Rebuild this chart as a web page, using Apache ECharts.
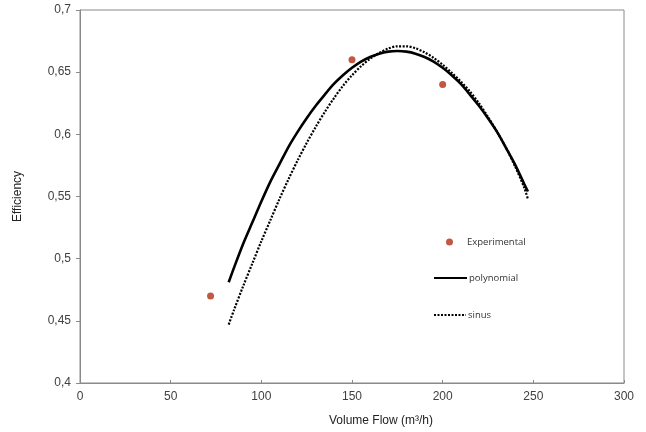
<!DOCTYPE html>
<html>
<head>
<meta charset="utf-8">
<script src="https://cdn.jsdelivr.net/npm/echarts@6/dist/echarts.min.js"></script>
<style>
  html, body { margin: 0; padding: 0; background: #fff; }
  #chart { width: 646px; height: 432px; }
</style>
</head>
<body>
<div id="chart"></div>
<script>
// Measured efficiency at three volume flows (m³/h)
const expFlow = [72, 150, 200];
const expEff = [0.47, 0.66, 0.64];

// Polynomial fit curve, sampled along the flow range
const polyFlow = [82, 85, 90, 95, 100, 105, 110, 115, 120, 125, 130, 135, 140, 145, 150, 155, 160, 165, 170, 175,
                  180, 185, 190, 195, 200, 205, 210, 215, 220, 225, 230, 235, 240, 245, 247];
const polyEff = [0.481, 0.493, 0.512, 0.529, 0.546, 0.562, 0.576, 0.590, 0.602, 0.613, 0.623, 0.632, 0.6405, 0.6475, 0.6535, 0.6585, 0.6622, 0.6649, 0.6665, 0.667,
                 0.6665, 0.6649, 0.6622, 0.6585, 0.6535, 0.6475, 0.6405, 0.632, 0.623, 0.613, 0.602, 0.589, 0.5755, 0.560, 0.554];

// Sinus fit curve, sampled along the flow range
const sinFlow = [82, 85, 90, 95, 100, 105, 110, 115, 120, 125, 130, 135, 140, 145, 150, 155, 160, 165, 170, 175,
                 180, 185, 190, 195, 200, 205, 210, 215, 220, 225, 230, 235, 240, 245, 247];
const sinEff = [0.447, 0.459, 0.478, 0.496, 0.514, 0.531, 0.548, 0.564, 0.579, 0.593, 0.606, 0.618, 0.629, 0.639, 0.6475, 0.6548, 0.6608, 0.6655, 0.6690, 0.6708,
                0.6708, 0.6692, 0.6660, 0.6615, 0.6560, 0.6495, 0.6425, 0.6345, 0.625, 0.614, 0.602, 0.589, 0.574, 0.557, 0.548];

// Axis ranges
const xTicks = { min: 0, max: 300, step: 50 };
const yTicks = { min: 0.4, max: 0.7, step: 0.05 };

const zip = (xs, ys) => xs.map((x, i) => [x, ys[i]]);
const FONT = '"Liberation Sans", Arial, sans-serif';
const axisGray = '#8a8a8a';
const labelGray = '#404040';

const chart = echarts.init(document.getElementById('chart'), null, { renderer: 'canvas' });

const legendText = { fontFamily: '"Open Sans", "Noto Sans", sans-serif', fontSize: 9.5, color: '#333' };

chart.setOption({
  animation: false,
  backgroundColor: '#fff',
  grid: {
    left: 80, right: 22, top: 10, bottom: 48,
    show: true, borderColor: axisGray, borderWidth: 1
  },
  legend: [
    {
      data: ['Experimental'], left: 446, top: 237, padding: 0,
      itemWidth: 7, itemHeight: 7, textStyle: Object.assign({ padding: [0, 0, 0, 9] }, legendText)
    },
    {
      data: ['polynomial'], left: 433, top: 273, padding: 0,
      itemWidth: 33, itemHeight: 10, itemStyle: { opacity: 0 },
      textStyle: Object.assign({ padding: [0, 0, 0, -3] }, legendText)
    },
    {
      data: ['sinus'], left: 433, top: 310, padding: 0,
      itemWidth: 32, itemHeight: 10, itemStyle: { opacity: 0 },
      textStyle: Object.assign({ padding: [0, 0, 0, -3] }, legendText)
    }
  ],
  xAxis: {
    type: 'value', min: xTicks.min, max: xTicks.max, interval: xTicks.step,
    name: 'Volume Flow (m³/h)', nameLocation: 'middle', nameGap: 32,
    nameTextStyle: { fontFamily: FONT, fontSize: 12, color: '#222', padding: [0, 0, 0, 58] },
    axisLine: { lineStyle: { color: axisGray, width: 1 } },
    axisTick: { show: true, inside: true, length: 3, lineStyle: { color: axisGray } },
    axisLabel: { fontFamily: FONT, fontSize: 12, color: labelGray, margin: 8 },
    splitLine: { show: false }
  },
  yAxis: {
    type: 'value', min: yTicks.min, max: yTicks.max, interval: yTicks.step,
    name: 'Efficiency', nameLocation: 'middle', nameGap: 56, nameRotate: 90,
    nameTextStyle: { fontFamily: FONT, fontSize: 12, color: '#222' },
    axisLine: { show: true, lineStyle: { color: axisGray, width: 1 } },
    axisTick: { show: true, inside: false, length: 4, lineStyle: { color: axisGray } },
    axisLabel: {
      fontFamily: FONT, fontSize: 12, color: labelGray, margin: 9,
      formatter: v => String(+v.toFixed(2)).replace('.', ',')
    },
    splitLine: { show: false }
  },
  series: [
    {
      name: 'Experimental', type: 'scatter', data: zip(expFlow, expEff),
      symbol: 'circle', symbolSize: 7,
      itemStyle: { color: '#b02e15' }, z: 5
    },
    {
      name: 'polynomial', type: 'line', data: zip(polyFlow, polyEff),
      smooth: 0.3, showSymbol: false, symbol: 'none',
      lineStyle: { color: '#000', width: 2.6, cap: 'butt' },
      itemStyle: { color: '#000' }
    },
    {
      name: 'sinus', type: 'line', data: zip(sinFlow, sinEff),
      smooth: 0.3, showSymbol: false, symbol: 'none',
      lineStyle: { color: '#000', width: 2.2, type: [2, 1.5], cap: 'butt' },
      itemStyle: { color: '#000' }
    }
  ]
});
</script>
</body>
</html>
